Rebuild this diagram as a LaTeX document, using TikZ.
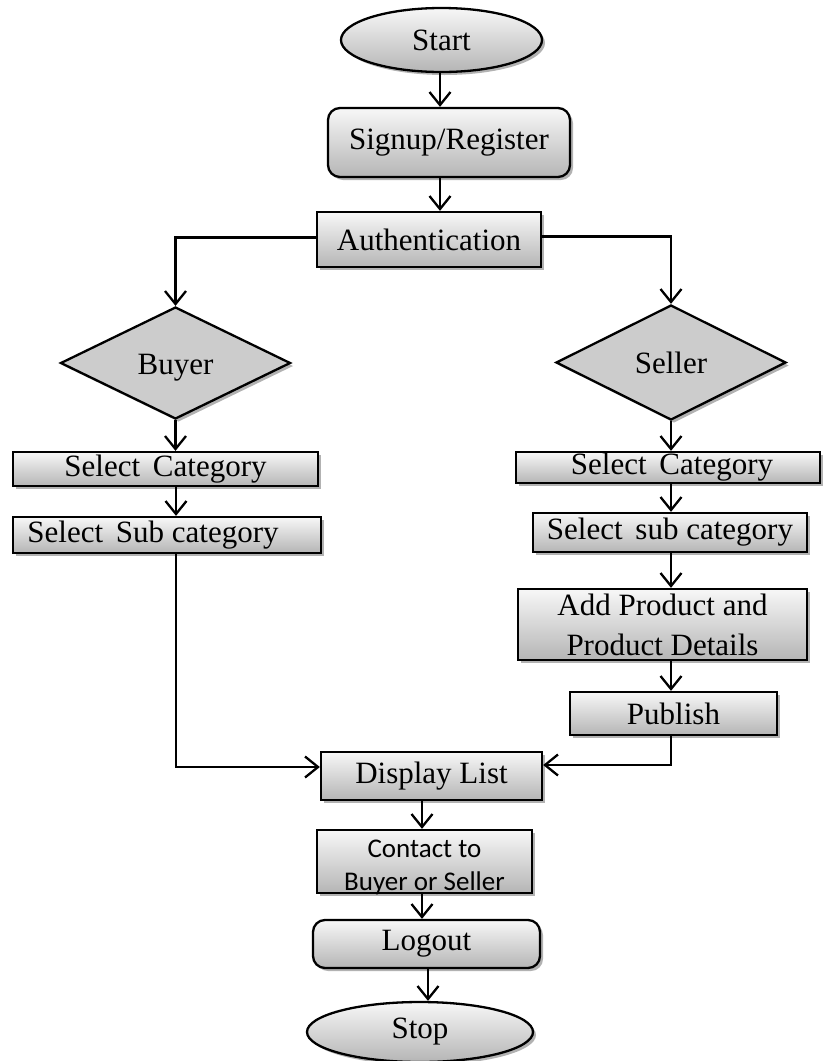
\documentclass[tikz,border=0pt]{standalone}
\usepackage{fontspec}
\setmainfont{Liberation Serif}
\newfontfamily\calibfont{Carlito}
\usetikzlibrary{shapes.geometric,arrows.meta,shadows}
\begin{document}
\begin{tikzpicture}[x=1pt,y=-1pt]
\tikzset{
  base/.style={draw=black, line width=2.3pt, top color=gray!6, bottom color=gray!58,
    drop shadow={shadow xshift=3pt,shadow yshift=-3pt,opacity=0.3,fill=black},
    font=\fontsize{31}{40}\selectfont, inner sep=0pt, align=center},
  boxnode/.style={base, rectangle},
  roundbox/.style={base, rectangle, rounded corners=12pt},
  term/.style={base, ellipse},
  decision/.style={draw=black, line width=2.3pt, fill=gray!40, diamond, aspect=2,
    drop shadow={shadow xshift=3pt,shadow yshift=-3pt,opacity=0.3,fill=black},
    font=\fontsize{31}{40}\selectfont, inner sep=0pt},
  arr/.style={-{Straight Barb[length=13pt,width=21pt]}, line width=2.3pt},
}
\useasboundingbox (0,0) rectangle (823,1061);

% nodes
\node[term, minimum width=201pt, minimum height=64pt] (start) at (441.5,40) {Start};
\node[roundbox, minimum width=242pt, minimum height=69pt] (signup) at (449,142.5) {Signup/Register};
\node[boxnode, minimum width=224pt, minimum height=55pt] (auth) at (429,239.5) {Authentication};

\node[decision, minimum width=230pt, minimum height=112pt] (buyer) at (175.5,363) {\raisebox{-5pt}[\height][\depth]{Buyer}};
\node[decision, minimum width=230pt, minimum height=115pt] (seller) at (671,362.5) {Seller};

\node[boxnode, minimum width=305pt, minimum height=34pt] (bcat) at (165.5,469) {Select\hspace{5pt} Category};
\node[boxnode, minimum width=308pt, minimum height=36pt] (bsub) at (167,535) {Select\hspace{5pt} Sub category\hspace{28pt}};

\node[boxnode, minimum width=304pt, minimum height=31pt] (scat) at (668,467.5) {\hspace{8pt}Select\hspace{5pt} Category};
\node[boxnode, minimum width=274pt, minimum height=39pt] (ssub) at (670,532.5) {Select\hspace{5pt} sub category};
\node[boxnode, minimum width=289pt, minimum height=71pt] (add) at (662.5,624.5) {Add Product and\\Product Details};
\node[boxnode, minimum width=207pt, minimum height=43pt] (publish) at (673.5,713.5) {Publish};

\node[boxnode, minimum width=221pt, minimum height=48pt] (display) at (431.5,776) {Display List};
\node[boxnode, minimum width=215pt, minimum height=63pt, font=\calibfont\fontsize{27}{35}\selectfont] (contact) at (424.5,861.5) {\raisebox{-6pt}[\height][\depth]{Contact to}\\[-2pt]\raisebox{-6pt}[\height][\depth]{Buyer or Seller}};
\node[roundbox, minimum width=227pt, minimum height=48pt] (logout) at (426.5,944) {Logout};
\node[term, minimum width=226pt, minimum height=60pt] (stop) at (420,1032) {Stop};

% guide coordinates
\coordinate (mx) at (440,0);
\coordinate (sx) at (671,0);
\coordinate (bx) at (176,0);
\coordinate (dx) at (422,0);
\coordinate (lx) at (428,0);

% connectors
\draw[arr] (start.south -| mx) -- (signup.north -| mx);
\draw[arr] (signup.south -| mx) -- (auth.north -| mx);
\draw[arr] ([yshift=2pt]auth.west) -| (buyer.north);
\draw[arr] ([yshift=3pt]auth.east) -| (seller.north);

\draw[arr] (buyer.south) -- (buyer.south |- bcat.north);
\draw[arr] (bcat.south -| bx) -- (bsub.north -| bx);
\draw[arr] (bsub.south -| bx) |- ([yshift=9pt]display.west);

\draw[arr] (seller.south -| sx) -- (scat.north -| sx);
\draw[arr] (scat.south -| sx) -- (ssub.north -| sx);
\draw[arr] (ssub.south -| sx) -- (add.north -| sx);
\draw[arr] (add.south -| sx) -- (publish.north -| sx);
\draw[arr] (publish.south -| sx) |- ([yshift=11pt]display.east);

\draw[arr] (display.south -| dx) -- (contact.north -| dx);
\draw[arr] (contact.south -| dx) -- (logout.north -| dx);
\draw[arr] (logout.south -| lx) -- (stop.north -| lx);
\end{tikzpicture}
\end{document}
